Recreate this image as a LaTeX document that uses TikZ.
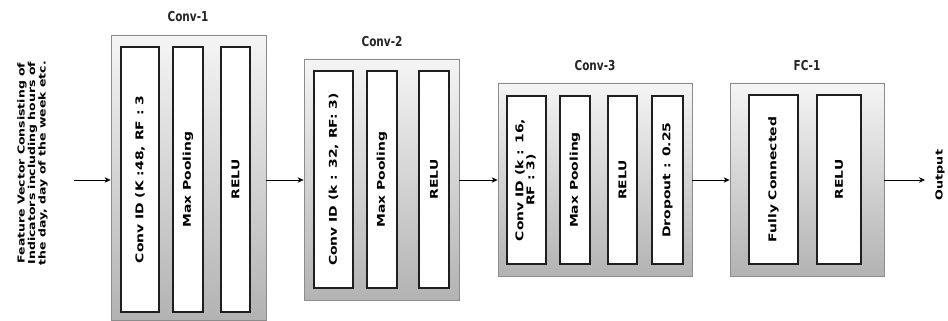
\documentclass[tikz,border=0pt]{standalone}
\usepackage{fontspec}
\setmainfont{DejaVu Sans}
\usetikzlibrary{arrows.meta}
\newcommand\vlab[1]{\scalebox{1.3}[1]{#1}}
\newcommand\hlab[1]{\scalebox{1}[1.3]{#1}}
\tikzset{
  outerbox/.style={draw=black!45, line width=0.8pt, top color=black!4, bottom color=black!30, minimum width=#1, inner sep=0pt},
  innerbox/.style={draw=black!88, fill=white, line width=1.6pt, minimum width=#1, inner sep=0pt, rotate=90},
  labfont/.style={font=\fontsize{10.7}{12}\selectfont\bfseries},
  titlefont/.style={font=\fontsize{10.5}{12}\selectfont\bfseries, text=black!85},
  arr/.style={-{Stealth[length=6pt,width=5.5pt]}, line width=0.8pt}
}
\begin{document}
\begin{tikzpicture}[x=1pt,y=-1pt]
\useasboundingbox (0,0) rectangle (948,321);
% outer boxes
\node[outerbox=155pt, minimum height=285pt] (c1) at (188.5,177.5) {};
\node[outerbox=155pt, minimum height=241pt] (c2) at (381.5,179.5) {};
\node[outerbox=194pt, minimum height=193pt] (c3) at (595,179.5) {};
\node[outerbox=154pt, minimum height=193pt] (f1) at (807,179.5) {};
% titles
\node[titlefont] (t1) at (188,17) {\hlab{Conv-1}};
\node[titlefont] (t2) at (382,42) {\hlab{Conv-2}};
\node[titlefont] (t3) at (595,66) {\hlab{Conv-3}};
\node[titlefont] (t4) at (807,66) {\hlab{FC-1}};
% Conv-1 inner
\node[innerbox=38pt, minimum width=265pt, minimum height=38pt, labfont] (c1a) at (140,179.5) {\vlab{Conv ID (K :48, RF : 3}};
\node[innerbox=30pt, minimum width=265pt, minimum height=30pt, labfont] (c1b) at (188,179.5) {\vlab{Max Pooling}};
\node[innerbox=29pt, minimum width=265pt, minimum height=29pt, labfont] (c1c) at (235.5,179.5) {\vlab{RELU}};
% Conv-2 inner
\node[innerbox=39pt, minimum width=217pt, minimum height=39pt, labfont] (c2a) at (333.5,179.5) {\vlab{Conv ID (k : 32, RF: 3)}};
\node[innerbox=30pt, minimum width=217pt, minimum height=30pt, labfont] (c2b) at (382,179.5) {\vlab{Max Pooling}};
\node[innerbox=30pt, minimum width=217pt, minimum height=30pt, labfont] (c2c) at (434,179.5) {\vlab{RELU}};
% Conv-3 inner
\node[innerbox=39pt, minimum width=168pt, minimum height=39pt, labfont] (c3a) at (526.5,180) {\vlab{\begin{tabular}{@{}c@{}}Conv ID (k : 16,\\[-1pt]RF : 3)\end{tabular}}};
\node[innerbox=30pt, minimum width=168pt, minimum height=30pt, labfont] (c3b) at (575,180) {\vlab{Max Pooling}};
\node[innerbox=29pt, minimum width=168pt, minimum height=29pt, labfont] (c3c) at (622.5,180) {\vlab{RELU}};
\node[innerbox=31pt, minimum width=168pt, minimum height=31pt, labfont] (c3d) at (667.5,180) {\vlab{Dropout : 0.25}};
% FC-1 inner
\node[innerbox=49pt, minimum width=169pt, minimum height=49pt, labfont] (f1a) at (773.5,179.5) {\vlab{Fully Connected}};
\node[innerbox=44pt, minimum width=169pt, minimum height=44pt, labfont] (f1b) at (839,179.5) {\vlab{RELU}};
% input text
\node[rotate=90, font=\fontsize{9.6}{10.4}\selectfont\bfseries, align=center] (feat) at (33,163)
  {\vlab{\begin{tabular}{@{}c@{}}Feature Vector Consisting of\\Indicators including hours of\\the day, day of the week etc.\end{tabular}}};
\node[rotate=90, font=\fontsize{9.8}{12}\selectfont\bfseries] (out) at (940,175) {\vlab{Output}};
% arrows
\coordinate (in) at (74,180);
\coordinate (outend) at (925,180);
\draw[arr] (in) -- (in -| c1.west);
\draw[arr] (in -| c1.east) -- (in -| c2.west);
\draw[arr] (in -| c2.east) -- (in -| c3.west);
\draw[arr] (in -| c3.east) -- (in -| f1.west);
\draw[arr] (in -| f1.east) -- (outend);
\end{tikzpicture}
\end{document}
